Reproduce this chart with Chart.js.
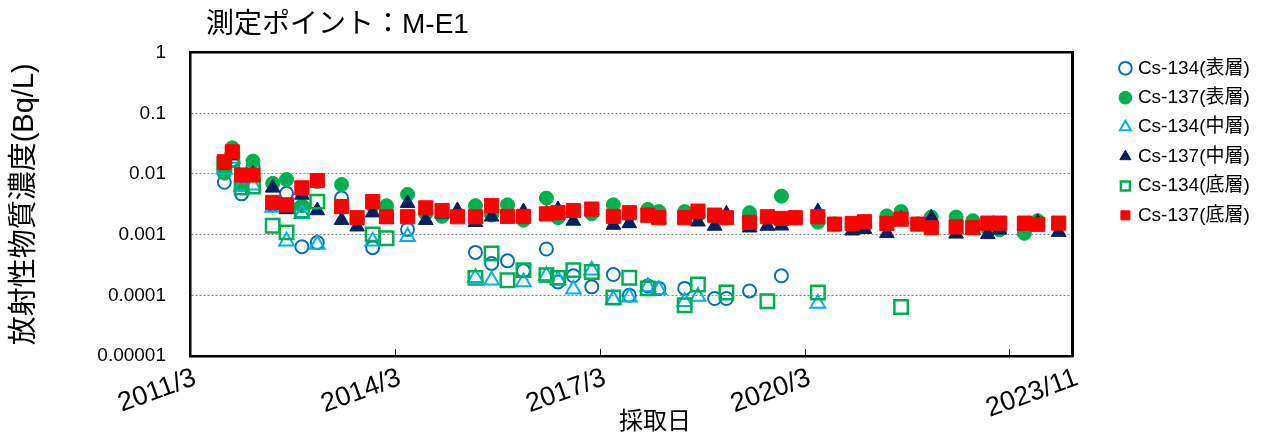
<!DOCTYPE html>
<html>
<head>
<meta charset="utf-8">
<script src="https://cdn.jsdelivr.net/npm/chart.js@4.4.1/dist/chart.umd.min.js"></script>
<style>
  html, body { margin: 0; padding: 0; background: #ffffff; }
  canvas { display: block; }
</style>
</head>
<body>
<canvas id="chart" width="1273" height="440"></canvas>
<script>
// ---------------- texts ----------------
const chartTitle = '測定ポイント：M-E1';
const yAxisTitle = '放射性物質濃度(Bq/L)';
const xAxisTitle = '採取日';
const seriesNames = ['Cs-134(表層)', 'Cs-137(表層)', 'Cs-134(中層)', 'Cs-137(中層)', 'Cs-134(底層)', 'Cs-137(底層)'];

// ---------------- axes ----------------
const xAxisStart = '2011/3/1';
const xAxisEnd = '2024/2/1';
const xTickDates = ['2011/3/1', '2014/3/1', '2017/3/1', '2020/3/1', '2024/2/1'];
const xTickLabels = ['2011/3', '2014/3', '2017/3', '2020/3', '2023/11'];
const xTickMarkDates = ['2014/3/1', '2017/3/1', '2020/3/1', '2023/3/1'];
const yTickValues = [0.00001, 0.0001, 0.001, 0.01, 0.1, 1];
const yTickLabels = ['0.00001', '0.0001', '0.001', '0.01', '0.1', '1'];

// ---------------- data (Bq/L) ----------------
const sampleDates = [
  '2011/9/2', '2011/10/14', '2011/12/3', '2012/2/3', '2012/5/17', '2012/7/30', '2012/10/21', '2013/1/12', '2013/5/20', '2013/8/12',
  '2013/11/4', '2014/1/17', '2014/5/8', '2014/8/14', '2014/11/10', '2015/2/1', '2015/5/6', '2015/7/31', '2015/10/25', '2016/1/19',
  '2016/5/20', '2016/7/21', '2016/10/12', '2017/1/19', '2017/5/13', '2017/8/7', '2017/11/15', '2018/1/13', '2018/5/29', '2018/8/9',
  '2018/11/7', '2019/1/9', '2019/5/11', '2019/8/15', '2019/10/29', '2020/1/12', '2020/5/11', '2020/8/9', '2020/11/12', '2021/1/17',
  '2021/5/15', '2021/7/30', '2021/10/28', '2022/1/9', '2022/5/20', '2022/8/18', '2022/11/7', '2023/1/9', '2023/5/20', '2023/7/30',
  '2023/11/21'
];
const cs134Surface = [
  0.0073, 0.017, 0.0047, 0.013, 0.0031, 0.0048, 0.00063, 0.00074, 0.0040, null,
  0.00061, null, 0.00122, null, null, null, 0.00051, 0.000335, 0.00037, 0.000253,
  0.00058, 0.000166, 0.00021, 0.000138, 0.00022, 0.0001, 0.000143, 0.00013, 0.00013, null,
  0.0000885, 0.0000885, 0.000118, null, 0.00021, null, null, null, null, null,
  null, null, null, null, null, null, null, null, null, null,
  null
];
const cs137Surface = [
  0.0103, 0.027, 0.0066, 0.0163, 0.0070, 0.0081, 0.0030, 0.0075, 0.0067, 0.0018,
  0.0030, 0.0030, 0.0046, 0.0022, 0.0020, 0.0021, 0.0030, 0.0021, 0.0031, 0.00173,
  0.0040, 0.0019, 0.0024, 0.0022, 0.0031, 0.0021, 0.0026, 0.0024, 0.0024, 0.0021,
  0.0020, 0.0019, 0.0023, 0.0019, 0.0043, 0.0019, 0.0016, 0.0015, 0.0015, 0.0016,
  0.00204, 0.0024, 0.0015, 0.00195, 0.00195, 0.0017, 0.00125, 0.0012, 0.00105, 0.0017,
  0.0015
];
const cs134Middle = [
  0.012, 0.018, 0.0062, 0.0065, 0.0028, 0.00078, 0.0022, 0.00069, null, null,
  0.00078, null, 0.00092, null, null, null, 0.000194, 0.000177, null, 0.000166,
  0.00021, 0.00018, 0.000126, 0.00026, 0.000085, 0.000093, 0.000138, 0.000124, 0.000078, 0.000096,
  null, null, null, null, null, null, 0.0000733, null, null, null,
  null, null, null, null, null, null, null, null, null, null,
  null
];
const cs137Middle = [
  0.014, 0.02, 0.009, 0.01, 0.0059, 0.0026, 0.0045, 0.0025, 0.00173, 0.00135,
  0.0023, 0.0018, 0.0033, 0.00173, 0.0022, 0.0025, 0.0016, 0.00197, 0.0019, 0.0024,
  0.0022, 0.0026, 0.00168, 0.0025, 0.00144, 0.00153, 0.0019, 0.0018, 0.0018, 0.00163,
  0.00139, 0.0022, 0.0013, 0.00139, 0.0014, 0.0018, 0.0024, 0.0014, 0.00116, 0.00123,
  0.00105, 0.0018, 0.0014, 0.0019, 0.00103, 0.0012, 0.00101, 0.0012, 0.0014, 0.0016,
  0.0011
];
const cs134Bottom = [
  0.0145, 0.017, 0.006, 0.0062, 0.0014, 0.00109, 0.0025, 0.0035, null, null,
  0.00101, 0.00087, null, null, null, null, 0.000194, 0.00049, 0.000177, 0.00026,
  0.000215, 0.000194, 0.00026, 0.000243, 0.000092, 0.000195, 0.00013, null, 0.0000687, 0.000151,
  null, 0.000111, null, 0.00008, null, null, 0.000111, null, null, null,
  null, 0.0000644, null, null, null, null, null, null, null, null,
  null
];
const cs137Bottom = [
  0.0159, 0.0232, 0.0096, 0.0096, 0.0034, 0.0031, 0.0059, 0.0078, 0.0029, 0.0019,
  0.0035, 0.00197, 0.00197, 0.00277, 0.0025, 0.00197, 0.00197, 0.0030, 0.0020, 0.0020,
  0.0022, 0.0023, 0.0025, 0.00264, 0.0020, 0.0023, 0.0021, 0.0019, 0.0019, 0.00244,
  0.0021, 0.0019, 0.00159, 0.00197, 0.00185, 0.0019, 0.00197, 0.00149, 0.00153, 0.00163,
  0.00153, 0.0018, 0.00149, 0.0013, 0.00134, 0.0013, 0.00155, 0.00155, 0.00155, 0.00148,
  0.00155
];

// ---------------- helpers ----------------
function monthsSinceStart(dateStr) {
  const [y, m, d] = dateStr.split('/').map(Number);
  const [y0, m0] = xAxisStart.split('/').map(Number);
  return (y - y0) * 12 + (m - m0) + ((d || 1) - 1) / 30;
}
function toPoints(values) {
  return sampleDates.map((d, i) => ({ x: monthsSinceStart(d), y: values[i] }))
                    .filter(p => p.y !== null && p.y !== undefined);
}

const cjkFamily = '"Liberation Sans", "Noto Sans CJK JP", sans-serif';
const yTickFont = { family: '"Liberation Sans", sans-serif', size: 19 };
const xTickFont = { family: '"Liberation Sans", sans-serif', size: 27 };
const legendFont = { family: cjkFamily, size: 19 };

// legend placement (marker column near x = 1125, text from x = 1138)
const legendPad = 10.4, legendBoxW = 6;
const mctx = document.createElement('canvas').getContext('2d');
mctx.font = legendFont.size + 'px ' + legendFont.family;
const maxLegendText = Math.max(...seriesNames.map(n => mctx.measureText(n).width));
const legendWidth = legendPad + legendBoxW + legendFont.size / 2 + maxLegendText + 10;
const legendLeft = 1112;
const rightPad = Math.max(0, 1273 - legendLeft - legendWidth);

const extrasPlugin = {
  id: 'extras',
  afterLayout(chart) {
    if (chart.titleBlock) chart.titleBlock.left = 206;
  },
  afterDraw(chart) {
    const ctx = chart.ctx, xs = chart.scales.x, area = chart.chartArea;
    ctx.save();
    ctx.strokeStyle = '#000000';
    ctx.lineWidth = 1;
    xTickMarkDates.forEach(d => {
      const px = Math.round(xs.getPixelForValue(monthsSinceStart(d))) + 0.5;
      ctx.beginPath();
      ctx.moveTo(px, area.bottom);
      ctx.lineTo(px, area.bottom - 7);
      ctx.stroke();
    });
    ctx.fillStyle = '#000000';
    ctx.font = '24px ' + cjkFamily;
    ctx.textAlign = 'center';
    ctx.textBaseline = 'middle';
    ctx.fillText(xAxisTitle, 655, 422);
    ctx.restore();
  }
};

const styles = [
  { pointStyle: 'circle',   radius: 6.5, bg: 'rgba(255,255,255,0)', border: '#0070C0', bw: 2,   order: 6 },
  { pointStyle: 'circle',   radius: 7,   bg: '#00B050',             border: '#00B050', bw: 1,   order: 5 },
  { pointStyle: 'triangle', radius: 8.5, bg: 'rgba(255,255,255,0)', border: '#00B0F0', bw: 2,   order: 4 },
  { pointStyle: 'triangle', radius: 8.5, bg: '#002060',             border: '#002060', bw: 1,   order: 3 },
  { pointStyle: 'rect',     radius: 9.5, bg: 'rgba(255,255,255,0)', border: '#00B050', bw: 2.5, order: 2 },
  { pointStyle: 'rect',     radius: 10,  bg: '#FF0000',             border: '#FF0000', bw: 1,   order: 1 }
];
const seriesValues = [cs134Surface, cs137Surface, cs134Middle, cs137Middle, cs134Bottom, cs137Bottom];

const datasets = seriesNames.map((name, i) => ({
  label: name,
  data: toPoints(seriesValues[i]),
  xAxisID: 'x',
  yAxisID: 'y',
  showLine: false,
  pointStyle: styles[i].pointStyle,
  pointRadius: styles[i].radius,
  pointHoverRadius: styles[i].radius,
  backgroundColor: styles[i].bg,
  borderColor: styles[i].border,
  pointBackgroundColor: styles[i].bg,
  pointBorderColor: styles[i].border,
  pointBorderWidth: styles[i].bw,
  borderWidth: styles[i].bw,
  order: styles[i].order
}));

new Chart(document.getElementById('chart'), {
  type: 'scatter',
  data: { datasets },
  plugins: [extrasPlugin],
  options: {
    responsive: false,
    animation: false,
    events: [],
    devicePixelRatio: 1,
    layout: { padding: { top: 0, left: 0, bottom: 0, right: rightPad } },
    plugins: {
      tooltip: { enabled: false },
      title: {
        display: true,
        text: chartTitle,
        align: 'start',
        color: '#000000',
        font: { family: cjkFamily, size: 28, weight: 'normal', lineHeight: 1.2 },
        padding: { top: 8, bottom: 5 }
      },
      legend: {
        position: 'right',
        align: 'start',
        title: { display: true, text: '', font: { size: 10, lineHeight: 1 }, padding: { top: 38.4, bottom: 0 } },
        labels: {
          usePointStyle: true,
          boxWidth: legendBoxW,
          boxHeight: 9,
          padding: legendPad,
          color: '#000000',
          font: legendFont,
          sort: (a, b) => a.datasetIndex - b.datasetIndex
        }
      }
    },
    scales: {
      x: {
        type: 'linear',
        position: 'bottom',
        min: monthsSinceStart(xAxisStart),
        max: monthsSinceStart(xAxisEnd),
        afterFit: s => { s.height = 84; },
        afterBuildTicks: s => { s.ticks = xTickDates.map(d => ({ value: monthsSinceStart(d) })); },
        ticks: {
          callback: (v, i) => xTickLabels[i],
          autoSkip: false,
          minRotation: 20,
          maxRotation: 20,
          padding: 6,
          labelOffset: 5,
          color: '#000000',
          font: xTickFont
        },
        grid: { display: false, drawTicks: false },
        border: { display: true, color: '#000000', width: 2.5 }
      },
      y: {
        type: 'logarithmic',
        position: 'left',
        min: 0.00001,
        max: 1,
        afterFit: s => { s.width = 190; },
        afterBuildTicks: s => { s.ticks = yTickValues.map(v => ({ value: v })); },
        ticks: {
          callback: (v, i) => yTickLabels[i],
          autoSkip: false,
          padding: 24,
          color: '#000000',
          font: yTickFont
        },
        grid: { color: '#7f7f7f', lineWidth: 1, drawTicks: false },
        border: { display: true, color: '#000000', width: 2.5, dash: [2, 2] },
        title: {
          display: true,
          text: yAxisTitle,
          color: '#000000',
          font: { family: cjkFamily, size: 29, weight: 'normal', lineHeight: 1.2 },
          padding: { top: 8, bottom: 0 }
        }
      },
      xTop: {
        type: 'linear',
        position: 'top',
        afterFit: s => { s.height = 6; },
        ticks: { display: false },
        grid: { display: false, drawTicks: false },
        border: { display: true, color: '#000000', width: 2.5 }
      },
      yRight: {
        type: 'linear',
        position: 'right',
        afterFit: s => { s.width = 40; },
        ticks: { display: false },
        grid: { display: false, drawTicks: false },
        border: { display: true, color: '#000000', width: 3 }
      }
    }
  }
});
</script>
</body>
</html>
